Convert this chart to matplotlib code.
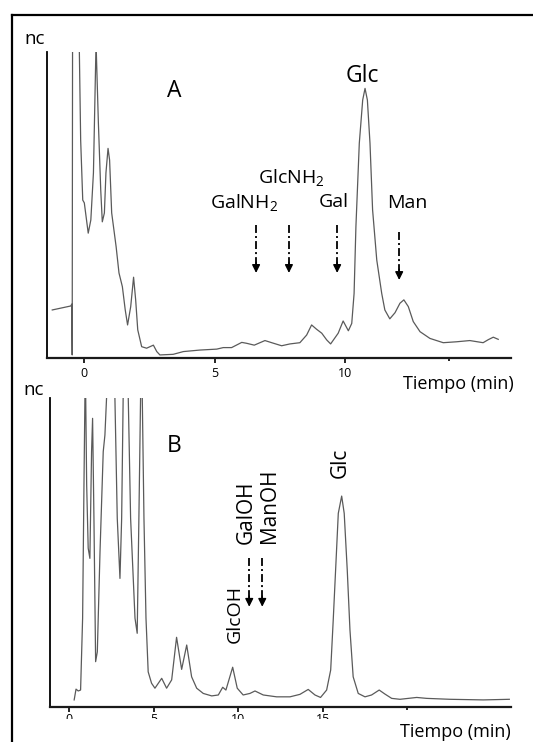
import matplotlib
matplotlib.use("Agg")
import matplotlib.pyplot as plt
from matplotlib.lines import Line2D
from matplotlib.transforms import Bbox, TransformedBbox

plt.rcParams['font.family'] = ['Open Sans', 'DejaVu Sans']
plt.rcParams['mathtext.fontset'] = 'custom'
plt.rcParams['mathtext.rm'] = 'Open Sans'
plt.rcParams['mathtext.it'] = 'Open Sans:italic'
plt.rcParams['mathtext.bf'] = 'Open Sans:bold'

# ---- chromatogram A: (time in min, detector signal in nC) ----
trace_a = [
    (-1.23, 15.7), (-0.52, 17.0), (-0.48, 17.6), (-0.465, 1.0), (-0.45, 110),
    (-0.20, 110), (-0.19, 100), (-0.14, 71.2), (-0.06, 51.6), (0.00, 50.7),
    (0.15, 40.8), (0.25, 45.1), (0.35, 60.5), (0.45, 103), (0.54, 76.8),
    (0.63, 54.9), (0.69, 44.5), (0.77, 47.4), (0.83, 60.5), (0.91, 68.5),
    (0.97, 64.7), (1.05, 47.4), (1.22, 36.4), (1.33, 27.8), (1.46, 23.3),
    (1.57, 15.7), (1.66, 10.8), (1.78, 16.8), (1.89, 26.4), (1.97, 19.0),
    (2.05, 9.2), (2.20, 3.7), (2.39, 3.2), (2.65, 4.2), (2.78, 2.1),
    (2.90, 1.0), (3.41, 1.2), (3.80, 2.1), (4.44, 2.6), (5.08, 2.9),
    (5.33, 3.4), (5.65, 3.4), (6.04, 5.1), (6.23, 4.8), (6.52, 4.2),
    (6.93, 5.7), (7.19, 5.0), (7.57, 4.0), (7.89, 4.6), (8.27, 5.0),
    (8.53, 7.5), (8.72, 10.8), (8.91, 9.4), (9.11, 8.1), (9.30, 5.9),
    (9.45, 4.6), (9.74, 8.1), (9.93, 12.1), (10.13, 8.9), (10.26, 11.3),
    (10.35, 21.1), (10.42, 42.9), (10.55, 70.2), (10.68, 84.3), (10.77, 88.1),
    (10.86, 84.3), (10.96, 70.2), (11.06, 48.4), (11.22, 32.0), (11.41, 21.1),
    (11.53, 15.7), (11.72, 12.8), (11.92, 14.8), (12.11, 17.9), (12.26, 19.0),
    (12.43, 16.8), (12.62, 11.9), (12.88, 8.6), (13.26, 6.4), (13.77, 5.0),
    (14.28, 5.3), (14.79, 5.7), (15.30, 5.0), (15.50, 6.0), (15.69, 6.8),
    (15.88, 6.1),
]

# ---- chromatogram B ----
trace_b = [
    (0.30, 2.2), (0.41, 5.7), (0.54, 5.1), (0.68, 5.4), (0.80, 28.7),
    (0.88, 71.9), (0.96, 112), (1.04, 71.9), (1.13, 51.4), (1.23, 48.1),
    (1.33, 82.7), (1.39, 93.5), (1.47, 61.1), (1.57, 14.6), (1.67, 17.8),
    (1.83, 50.3), (2.02, 82.7), (2.12, 88.1), (2.22, 100.5), (2.45, 125),
    (2.71, 100.5), (2.85, 61.1), (3.01, 41.6), (3.11, 61.1), (3.20, 100.5),
    (3.35, 118), (3.50, 100.5), (3.64, 61.1), (3.90, 28.7), (4.03, 23.8),
    (4.13, 61.1), (4.23, 100.5), (4.28, 112), (4.33, 100.5), (4.43, 61.1),
    (4.55, 28.7), (4.68, 11.3), (4.88, 7.6), (5.08, 6.0), (5.48, 9.2),
    (5.77, 6.0), (6.07, 8.7), (6.36, 22.5), (6.66, 12.1), (6.96, 20.0),
    (7.25, 9.7), (7.55, 6.0), (7.94, 4.3), (8.44, 3.5), (8.83, 3.8),
    (9.09, 6.3), (9.28, 5.4), (9.68, 12.8), (9.95, 6.0), (10.30, 3.8),
    (10.70, 4.3), (11.00, 5.1), (11.49, 3.8), (12.28, 3.2), (13.07, 3.2),
    (13.66, 4.0), (14.15, 5.6), (14.55, 3.8), (14.88, 3.0), (15.24, 5.4),
    (15.48, 11.9), (15.63, 28.1), (15.79, 46.5), (15.93, 62.7), (16.13, 68.3),
    (16.28, 62.7), (16.46, 44.3), (16.62, 24.9), (16.81, 9.7), (17.11, 4.3),
    (17.51, 3.2), (17.90, 3.8), (18.35, 5.4), (18.69, 4.1), (19.09, 2.7),
    (19.58, 2.4), (20.57, 3.0), (21.16, 2.7), (22.54, 2.4), (24.51, 2.2),
    (26.05, 2.4),
]

ticks_a = [0, 5, 10]
minor_a = [14]
ticks_b = [0, 5, 10, 15]
minor_b = [20]

# peak labels: (text, time, signal)
labels_a = [("GalNH$_2$", 6.13, 49.0), ("GlcNH$_2$", 7.95, 57.2),
            ("Gal", 9.56, 49.3), ("Man", 12.40, 49.0)]
arrows_a = [(6.59, 43.5, 27.8), (7.85, 43.5, 27.8),
            (9.70, 43.5, 27.8), (12.08, 41.3, 25.5)]
labels_b = [("GlcOH", 9.80, 30.1, 14), ("GalOH", 10.50, 63.0, 15),
            ("ManOH", 11.86, 65.2, 15), ("Glc", 16.06, 79.2, 15)]
arrows_b = [(10.66, 48.1, 32.4), (11.43, 48.1, 32.4)]

W, H = 533, 742
fig = plt.figure(figsize=(W / 100, H / 100), dpi=100)


def fx(px):
    return px / W


def fy(py):
    return 1 - py / H


TRACE = '#5a5a5a'


def style_axes(ax, xlim, major, minor, pad):
    ax.set_xlim(*xlim)
    ax.set_ylim(0, 100)
    ax.spines['top'].set_visible(False)
    ax.spines['right'].set_visible(False)
    ax.spines['left'].set_linewidth(1.3)
    ax.spines['bottom'].set_linewidth(1.6)
    ax.spines['bottom'].set_color('#1a1a1a')
    ax.set_yticks([])
    ax.set_xticks(major)
    ax.set_xticks(minor, minor=True)
    ax.tick_params(axis='x', which='major', length=3.8, width=1.2,
                   labelsize=9, pad=pad)
    ax.tick_params(axis='x', which='minor', length=1.8, width=1.2)
    ax.patch.set_alpha(0)


def draw_arrow(ax, t, s_tail, s_tip):
    ax.plot([t, t], [s_tail, s_tip + 3], color='k', lw=1.3,
            linestyle=(0, (4.4, 1.7, 1.1, 1.7)), solid_capstyle='butt')
    ax.annotate('', xy=(t, s_tip), xytext=(t, s_tip + 3.5),
                arrowprops=dict(arrowstyle='-|>', color='k', lw=1.0,
                                mutation_scale=12, shrinkA=0, shrinkB=0))


# ---------- panel A ----------
axA = fig.add_axes([fx(47.3), fy(358), fx(511) - fx(47.3), fy(52) - fy(358)])
style_axes(axA, (-1.42, 16.37), ticks_a, minor_a, 2.5)
ta, sa = zip(*trace_a)
axA.plot(ta, sa, color=TRACE, lw=0.9)
axA.text(3.46, 85.3, "A", fontsize=16.5, ha='center', va='baseline')
axA.text(10.67, 90.3, "Glc", fontsize=16.5, ha='center', va='baseline')
for txt, t, s in labels_a:
    axA.text(t, s, txt, fontsize=14, ha='center', va='baseline')
for t, s0, s1 in arrows_a:
    draw_arrow(axA, t, s0, s1)

# ---------- panel B ----------
axB = fig.add_axes([fx(50), fy(706.7), fx(511) - fx(50), fy(398.3) - fy(706.7)])
style_axes(axB, (-1.13, 26.15), ticks_b, minor_b, 0.5)
tb, sb = zip(*trace_b)
axB.plot(tb, sb, color=TRACE, lw=0.9)
axB.text(6.23, 82.5, "B", fontsize=16.5, ha='center', va='baseline')
for txt, t, s, fs in labels_b:
    axB.text(t, s, txt, fontsize=fs, ha='center', va='center', rotation=90)
for t, s0, s1 in arrows_b:
    draw_arrow(axB, t, s0, s1)

clip = TransformedBbox(Bbox([[0, fy(719)], [1, 1]]), fig.transFigure)
for tk in axB.xaxis.get_major_ticks():
    tk.label1.set_clip_box(clip)
    tk.label1.set_clip_on(True)

# axis captions
fig.text(fx(24), fy(44), "nc", fontsize=13.5, ha='left', va='baseline')
fig.text(fx(23), fy(395), "nc", fontsize=13.5, ha='left', va='baseline')
fig.text(fx(514), fy(389), "Tiempo (min)", fontsize=13, ha='right', va='baseline')
fig.text(fx(511), fy(736.7), "Tiempo (min)", fontsize=13, ha='right', va='baseline')

# outer frame
fig.add_artist(Line2D([fx(12), fx(12)], [fy(15), 0], transform=fig.transFigure,
                      color='k', lw=1.6))
fig.add_artist(Line2D([fx(12), 1], [fy(15), fy(15)], transform=fig.transFigure,
                      color='k', lw=1.6))

fig.savefig("out.png", dpi=100)
